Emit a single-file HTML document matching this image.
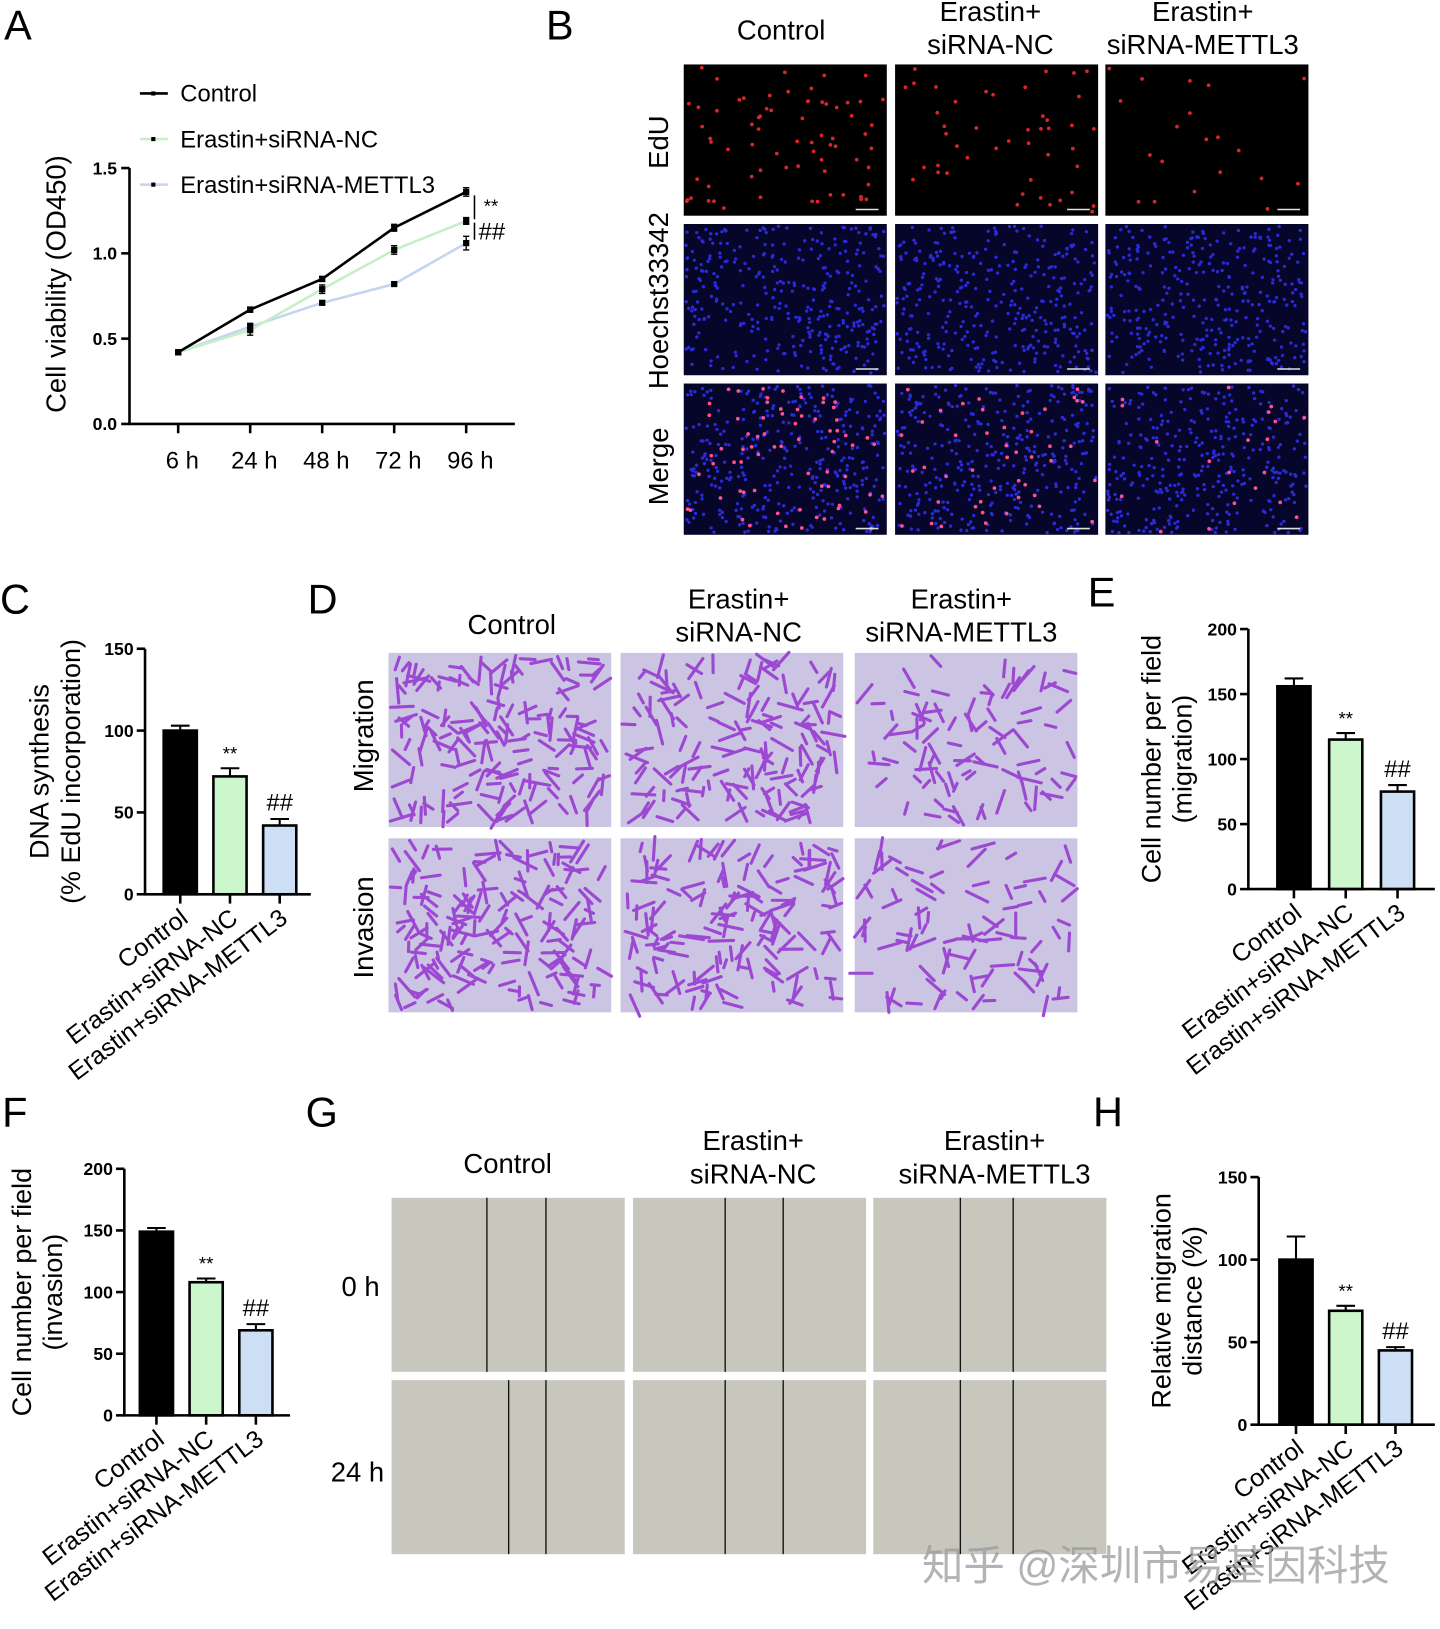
<!DOCTYPE html>
<html><head><meta charset="utf-8">
<style>
html,body{margin:0;padding:0;background:#fff;}
svg{display:block;font-family:"Liberation Sans","Noto Sans CJK SC",sans-serif;}
</style></head>
<body>
<svg id="fig" width="1440" height="1629" viewBox="0 0 1390 1572" xmlns="http://www.w3.org/2000/svg">
<rect width="1390" height="1572" fill="#fff"/>
<g font-size="40" fill="#000">
<text x="4" y="38">A</text>
<text x="527" y="38">B</text>
<text x="0" y="592">C</text>
<text x="297" y="592">D</text>
<text x="1050" y="585">E</text>
<text x="2" y="1087">F</text>
<text x="295" y="1087">G</text>
<text x="1055" y="1087">H</text>
</g>
<g id="micro"></g>
<g id="charts"></g>
<text x="890" y="1525" font-size="40" fill="#999" fill-opacity="0.75">知乎 @深圳市易基因科技</text>
</svg>
<script>
// ---------- Chart data ----------
const timeLabels = ["6 h","24 h","48 h","72 h","96 h"];
const controlViability = [0.42,0.67,0.85,1.15,1.36];
const ncViability = [0.42,0.55,0.79,1.02,1.19];
const mettl3Viability = [0.42,0.57,0.71,0.82,1.06];
const controlViabErr = [0.01,0.015,0.015,0.02,0.025];
const ncViabErr = [0.01,0.03,0.025,0.025,0.02];
const mettl3ViabErr = [0.01,0.02,0.01,0.01,0.04];
const viabTicks = [0,0.5,1.0,1.5];
const groupLabels = ["Control","Erastin+siRNA-NC","Erastin+siRNA-METTL3"];
const edUValues = [100,72,42];
const edUErr = [3,5,4];
const edUTicks = [0,50,100,150];
const migrationValues = [156,115,75];
const migrationErr = [6,5,5];
const migrationTicks = [0,50,100,150,200];
const invasionValues = [149,108,69];
const invasionErr = [3,3,5];
const invasionTicks = [0,50,100,150,200];
const distanceValues = [100,69,45];
const distanceErr = [14,3,2];
const distanceTicks = [0,50,100,150];
const sigMarks = ["","**","##"];

const NS="http://www.w3.org/2000/svg";
function mk(tag,attrs,parent){const e=document.createElementNS(NS,tag);for(const k in attrs)e.setAttribute(k,attrs[k]);parent.appendChild(e);return e;}
const charts=document.getElementById('charts');
const micro=document.getElementById('micro');
const barFill=["#000","#ccf7cc","#cddff5"];

// ---------- Panel A line chart ----------
(function(){
  const g=mk('g',{},charts);
  
  
  const y0=409,y1=162,vmax=1.5;
  const ys=v=>y0-(v/vmax)*(y0-y1);
  const xs=i=>172+i*69.5;
  const ax=mk('path',{d:`M125 ${y1} V${y0} H497`,stroke:'#000','stroke-width':2.5,fill:'none'},g);
  
  viabTicks.forEach(t=>{
    mk('line',{x1:117,x2:125,y1:ys(t),y2:ys(t),stroke:'#000','stroke-width':2.5},g);
    const tx=mk('text',{x:113,y:ys(t)+6,'text-anchor':'end','font-size':17,'font-weight':'bold'},g);
    tx.textContent=t.toFixed(1);
    
  });
  timeLabels.forEach((l,i)=>{
    mk('line',{x1:xs(i),x2:xs(i),y1:y0,y2:y0+9,stroke:'#000','stroke-width':2.5},g);
    const tx=mk('text',{x:xs(i)+4,y:452,'text-anchor':'middle','font-size':23},g);
    tx.textContent=l;
    
  });
  const yt=mk('text',{transform:'translate(63,274) rotate(-90)','text-anchor':'middle','font-size':26.5},g);
  yt.textContent='Cell viability (OD450)';
  
  const series=[[mettl3Viability,mettl3ViabErr,'#c6d4ee','series-mettl3'],[ncViability,ncViabErr,'#c6efc6','series-nc'],[controlViability,controlViabErr,'#000','series-control']];
  series.forEach(([vals,errs,col,name])=>{
    const p=mk('polyline',{points:vals.map((v,i)=>xs(i)+','+ys(v)).join(' '),fill:'none',stroke:col,'stroke-width':2.5},g);
    
    vals.forEach((v,i)=>{
      const x=xs(i);
      mk('path',{d:`M${x} ${ys(v+errs[i])} V${ys(v-errs[i])} M${x-3} ${ys(v+errs[i])} H${x+3} M${x-3} ${ys(v-errs[i])} H${x+3}`,stroke:'#000','stroke-width':1.3},g);
      const pt=mk('rect',{x:x-3,y:ys(v)-3,width:6,height:6,fill:'#000'},g);
      
    });
  });
  mk('line',{x1:458,x2:458,y1:ys(1.34),y2:ys(1.2),stroke:'#000','stroke-width':1.5},g);
  mk('line',{x1:458,x2:458,y1:ys(1.18),y2:ys(1.08),stroke:'#000','stroke-width':1.5},g);
  const s1=mk('text',{x:467,y:205,'font-size':18},g);s1.textContent='**';
  
  const s2=mk('text',{x:462,y:231,'font-size':23},g);s2.textContent='##';
  
  const leg=[['#000','Control',90],['#c6efc6','Erastin+siRNA-NC',134],['#c6d4ee','Erastin+siRNA-METTL3',178]];
  leg.forEach(([c,t,y])=>{
    const lg=mk('g',{},g);
    
    mk('line',{x1:135,x2:162,y1:y,y2:y,stroke:c,'stroke-width':2.5},lg);
    mk('rect',{x:146,y:y-2,width:4,height:4,fill:'#000'},lg);
    const tx=mk('text',{x:174,y:y+8,'font-size':23},lg);tx.textContent=t;
  });
})();

// ---------- Bar chart helper ----------
function barChart(opts){
  const {name,values,errs,ticks,vmax,y0,y1,xa,xb,bx,bw,title,titleX}=opts;
  const g=mk('g',{},charts);
  
  
  const ys=v=>y0-(v/vmax)*(y0-y1);
  values.forEach((v,i)=>{
    const x=bx[i];
    mk('path',{d:`M${x} ${ys(v)} V${ys(v+errs[i])} M${x-9} ${ys(v+errs[i])} H${x+9}`,stroke:'#000','stroke-width':2},g);
    const r=mk('rect',{x:x-bw/2,y:ys(v),width:bw,height:y0-ys(v),fill:barFill[i],stroke:'#000','stroke-width':2.5},g);
    
    if(sigMarks[i]){
      const s=mk('text',{x:x,y:ys(v+errs[i])-8,'text-anchor':'middle','font-size':sigMarks[i]==='**'?18:23},g);
      s.textContent=sigMarks[i];
      
    }
    mk('line',{x1:x,x2:x,y1:y0,y2:y0+9,stroke:'#000','stroke-width':2.5},g);
    const lab=mk('text',{transform:`translate(${x+9},${y0+26}) rotate(-37)`,'text-anchor':'end','font-size':24},g);
    lab.textContent=groupLabels[i];
    
  });
  const ax=mk('path',{d:`M${xa} ${y1} V${y0} H${xb}`,stroke:'#000','stroke-width':2.5,fill:'none'},g);
  
  ticks.forEach(t=>{
    mk('line',{x1:xa-8,x2:xa,y1:ys(t),y2:ys(t),stroke:'#000','stroke-width':2.5},g);
    const tx=mk('text',{x:xa-11,y:ys(t)+6,'text-anchor':'end','font-size':17,'font-weight':'bold'},g);
    tx.textContent=t;
    
  });
  const cy=(y0+y1)/2;
  title.forEach((t,k)=>{
    const tt=mk('text',{transform:`translate(${titleX+k*30},${cy}) rotate(-90)`,'text-anchor':'middle','font-size':26},g);
    tt.textContent=t;
    
  });
}
barChart({name:'edu-bar-chart',values:edUValues,errs:edUErr,ticks:edUTicks,vmax:150,y0:863,y1:626,xa:140,xb:300,bx:[174,222,270],bw:32,title:['DNA synthesis','(% EdU incorporation)'],titleX:47});
barChart({name:'migration-bar-chart',values:migrationValues,errs:migrationErr,ticks:migrationTicks,vmax:200,y0:858,y1:607,xa:1205,xb:1385,bx:[1249,1299,1349],bw:32,title:['Cell number per field','(migration)'],titleX:1120});
barChart({name:'invasion-bar-chart',values:invasionValues,errs:invasionErr,ticks:invasionTicks,vmax:200,y0:1366,y1:1128,xa:120,xb:280,bx:[151,199,247],bw:32,title:['Cell number per field','(invasion)'],titleX:30});
barChart({name:'migration-distance-bar-chart',values:distanceValues,errs:distanceErr,ticks:distanceTicks,vmax:150,y0:1375,y1:1136,xa:1215,xb:1385,bx:[1251,1299,1347],bw:32,title:['Relative migration','distance (%)'],titleX:1130});

// ---------- Microscopy images (decorative textures) ----------
let seed=7;function rnd(){seed=(seed*16807)%2147483647;return seed/2147483647;}
function label(txt,x,y,size,rot,name){
  const t=mk('text',rot?{transform:`translate(${x},${y}) rotate(-90)`,'text-anchor':'middle','font-size':size}:{x:x,y:y,'text-anchor':'middle','font-size':size},micro);
  t.textContent=txt;
}
const bCols=[660,864,1067],bRows=[62,216,370],bw=196,bh=146;
const bNames=['edu','hoechst','merge'];
bRows.forEach((y,r)=>bCols.forEach((x,c)=>{
  const g=mk('g',{},micro);
  
  
  mk('rect',{x:x,y:y,width:bw,height:bh,fill:r===0?'#000':'#06062a'},g);
  if(r>0){for(let k=0;k<330;k++)mk('circle',{cx:x+2+rnd()*(bw-4),cy:y+2+rnd()*(bh-4),r:1.6,fill:'#2a2ad8'},g);}
  if(r!==1){const n=[70,45,20][c];for(let k=0;k<n;k++)mk('circle',{cx:x+3+rnd()*(bw-6),cy:y+3+rnd()*(bh-6),r:1.8,fill:r===0?'#d8262a':'#ff5090'},g);}
  mk('line',{x1:x+bw-30,x2:x+bw-8,y1:y+bh-6,y2:y+bh-6,stroke:'#ddd','stroke-width':1.5},g);
}));
const CT=26.5;
label('Control',754,38,CT,false,'column-title');
label('Erastin+',956,20,CT,false,'column-title');label('siRNA-NC',956,52,CT,false,'column-title');
label('Erastin+',1161,20,CT,false,'column-title');label('siRNA-METTL3',1161,52,CT,false,'column-title');
label('EdU',645,137,CT,true,'row-label');label('Hoechst33342',645,290,CT,true,'row-label');label('Merge',645,450,CT,true,'row-label');
const dCols=[375,599,825],dRows=[630,809],dw=215,dh=168;
dRows.forEach((y,r)=>dCols.forEach((x,c)=>{
  const g=mk('g',{},micro);
  
  
  mk('rect',{x:x,y:y,width:dw,height:dh,fill:'#cbc4e2'},g);
  const n=[170,150,90][c];
  for(let k=0;k<n;k++){const cx=x+6+rnd()*(dw-12),cy=y+6+rnd()*(dh-12),a=rnd()*Math.PI,l=4+rnd()*8;
    mk('line',{x1:cx-Math.cos(a)*l,y1:cy-Math.sin(a)*l,x2:cx+Math.cos(a)*l,y2:cy+Math.sin(a)*l,stroke:'#9c48d2','stroke-width':3,'stroke-linecap':'round'},g);}
}));
label('Control',494,612,CT,false,'column-title');
label('Erastin+',713,587,CT,false,'column-title');label('siRNA-NC',713,619,CT,false,'column-title');
label('Erastin+',928,587,CT,false,'column-title');label('siRNA-METTL3',928,619,CT,false,'column-title');
label('Migration',360,710,CT,true,'row-label');label('Invasion',360,895,CT,true,'row-label');
const gCols=[378,611,843],gRows=[1156,1332],gw=225,gh=168;
const gLines=[[[470,527],[700,756],[927,978]],[[491,527],[700,756],[927,978]]];
gRows.forEach((y,r)=>gCols.forEach((x,c)=>{
  const g=mk('g',{},micro);
  
  
  mk('rect',{x:x,y:y,width:gw,height:gh,fill:'#c8c7be'},g);
  gLines[r][c].forEach(lx=>mk('line',{x1:lx,x2:lx,y1:y,y2:y+gh,stroke:'#111','stroke-width':1.3},g));
}));
label('Control',490,1132,CT,false,'column-title');
label('Erastin+',727,1110,CT,false,'column-title');label('siRNA-NC',727,1142,CT,false,'column-title');
label('Erastin+',960,1110,CT,false,'column-title');label('siRNA-METTL3',960,1142,CT,false,'column-title');
label('0 h',348,1251,CT,false,'row-label');label('24 h',345,1430,CT,false,'row-label');
</script>
</body></html>
